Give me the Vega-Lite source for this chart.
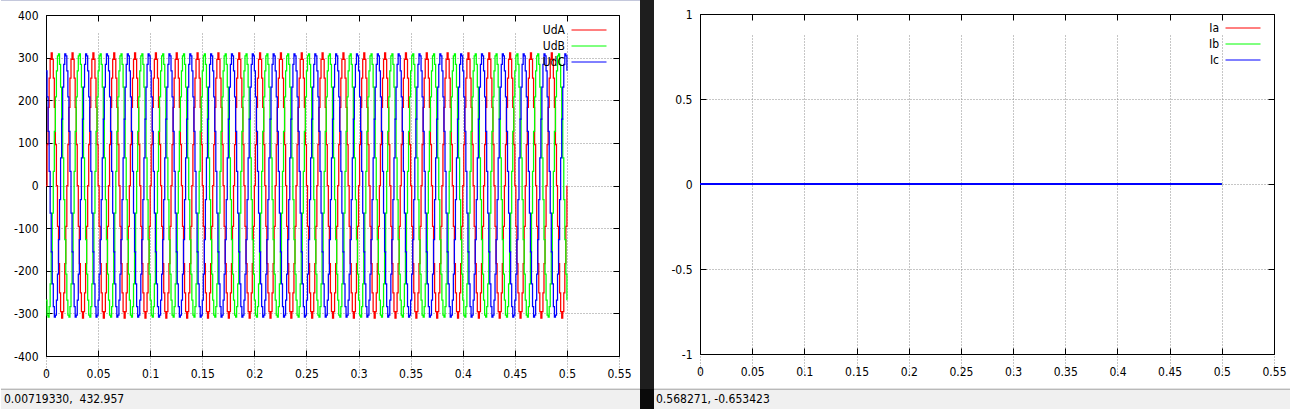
{
"$schema": "https://vega.github.io/schema/vega-lite/v6.json",
"background": "#ffffff",
"padding": 0,
"spacing": 0,
"bounds": "flush",
"columns": 3,
"align": "each",
"resolve": {"scale": {"color": "independent"}, "legend": {"color": "independent"}},
"config": {
  "view": {"stroke": null},
  "font": "DejaVu Sans Condensed, Liberation Sans, sans-serif",
  "axis": {
    "title": null, "labelFontSize": 12, "labelColor": "#000000", "labelFlush": false, "labelOverlap": false, "labelBound": false,
    "domainColor": "#000000", "domainWidth": 1, "tickColor": "#000000", "tickWidth": 1, "tickSize": -6,
    "gridColor": "#8c8c8c", "gridDash": [1, 2], "gridWidth": 1, "gridOpacity": 1,
    "labelExpr": "'' + datum.value"
  },
  "legend": {
    "title": null, "symbolType": "M-3.5,0H3.5", "symbolSize": 100, "symbolStrokeWidth": 1,
    "labelAlign": "right", "labelOffset": -30, "labelFontSize": 12, "labelColor": "#000000",
    "rowPadding": 4, "padding": 0, "orient": "none"
  }
},
"datasets": {
"u": [
{"t":0.000,"UdA":0,"UdB":-269,"UdC":269},{"t":0.001,"UdA":96,"UdB":-304,"UdC":208},{"t":0.002,"UdA":183,"UdB":-309,"UdC":127},{"t":0.003,"UdA":252,"UdB":-284,"UdC":33},{"t":0.004,"UdA":296,"UdB":-231,"UdC":-65},{"t":0.005,"UdA":311,"UdB":-156,"UdC":-156},{"t":0.006,"UdA":296,"UdB":-65,"UdC":-231},{"t":0.007,"UdA":252,"UdB":33,"UdC":-284},{"t":0.008,"UdA":183,"UdB":127,"UdC":-309},{"t":0.009,"UdA":96,"UdB":208,"UdC":-304},
{"t":0.010,"UdA":0,"UdB":269,"UdC":-269},{"t":0.011,"UdA":-96,"UdB":304,"UdC":-208},{"t":0.012,"UdA":-183,"UdB":309,"UdC":-127},{"t":0.013,"UdA":-252,"UdB":284,"UdC":-33},{"t":0.014,"UdA":-296,"UdB":231,"UdC":65},{"t":0.015,"UdA":-311,"UdB":156,"UdC":156},{"t":0.016,"UdA":-296,"UdB":65,"UdC":231},{"t":0.017,"UdA":-252,"UdB":-33,"UdC":284},{"t":0.018,"UdA":-183,"UdB":-127,"UdC":309},{"t":0.019,"UdA":-96,"UdB":-208,"UdC":304},
{"t":0.020,"UdA":0,"UdB":-269,"UdC":269},{"t":0.021,"UdA":96,"UdB":-304,"UdC":208},{"t":0.022,"UdA":183,"UdB":-309,"UdC":127},{"t":0.023,"UdA":252,"UdB":-284,"UdC":33},{"t":0.024,"UdA":296,"UdB":-231,"UdC":-65},{"t":0.025,"UdA":311,"UdB":-156,"UdC":-156},{"t":0.026,"UdA":296,"UdB":-65,"UdC":-231},{"t":0.027,"UdA":252,"UdB":33,"UdC":-284},{"t":0.028,"UdA":183,"UdB":127,"UdC":-309},{"t":0.029,"UdA":96,"UdB":208,"UdC":-304},
{"t":0.030,"UdA":0,"UdB":269,"UdC":-269},{"t":0.031,"UdA":-96,"UdB":304,"UdC":-208},{"t":0.032,"UdA":-183,"UdB":309,"UdC":-127},{"t":0.033,"UdA":-252,"UdB":284,"UdC":-33},{"t":0.034,"UdA":-296,"UdB":231,"UdC":65},{"t":0.035,"UdA":-311,"UdB":156,"UdC":156},{"t":0.036,"UdA":-296,"UdB":65,"UdC":231},{"t":0.037,"UdA":-252,"UdB":-33,"UdC":284},{"t":0.038,"UdA":-183,"UdB":-127,"UdC":309},{"t":0.039,"UdA":-96,"UdB":-208,"UdC":304},
{"t":0.040,"UdA":0,"UdB":-269,"UdC":269},{"t":0.041,"UdA":96,"UdB":-304,"UdC":208},{"t":0.042,"UdA":183,"UdB":-309,"UdC":127},{"t":0.043,"UdA":252,"UdB":-284,"UdC":33},{"t":0.044,"UdA":296,"UdB":-231,"UdC":-65},{"t":0.045,"UdA":311,"UdB":-156,"UdC":-156},{"t":0.046,"UdA":296,"UdB":-65,"UdC":-231},{"t":0.047,"UdA":252,"UdB":33,"UdC":-284},{"t":0.048,"UdA":183,"UdB":127,"UdC":-309},{"t":0.049,"UdA":96,"UdB":208,"UdC":-304},
{"t":0.050,"UdA":0,"UdB":269,"UdC":-269},{"t":0.051,"UdA":-96,"UdB":304,"UdC":-208},{"t":0.052,"UdA":-183,"UdB":309,"UdC":-127},{"t":0.053,"UdA":-252,"UdB":284,"UdC":-33},{"t":0.054,"UdA":-296,"UdB":231,"UdC":65},{"t":0.055,"UdA":-311,"UdB":156,"UdC":156},{"t":0.056,"UdA":-296,"UdB":65,"UdC":231},{"t":0.057,"UdA":-252,"UdB":-33,"UdC":284},{"t":0.058,"UdA":-183,"UdB":-127,"UdC":309},{"t":0.059,"UdA":-96,"UdB":-208,"UdC":304},
{"t":0.060,"UdA":0,"UdB":-269,"UdC":269},{"t":0.061,"UdA":96,"UdB":-304,"UdC":208},{"t":0.062,"UdA":183,"UdB":-309,"UdC":127},{"t":0.063,"UdA":252,"UdB":-284,"UdC":33},{"t":0.064,"UdA":296,"UdB":-231,"UdC":-65},{"t":0.065,"UdA":311,"UdB":-156,"UdC":-156},{"t":0.066,"UdA":296,"UdB":-65,"UdC":-231},{"t":0.067,"UdA":252,"UdB":33,"UdC":-284},{"t":0.068,"UdA":183,"UdB":127,"UdC":-309},{"t":0.069,"UdA":96,"UdB":208,"UdC":-304},
{"t":0.070,"UdA":0,"UdB":269,"UdC":-269},{"t":0.071,"UdA":-96,"UdB":304,"UdC":-208},{"t":0.072,"UdA":-183,"UdB":309,"UdC":-127},{"t":0.073,"UdA":-252,"UdB":284,"UdC":-33},{"t":0.074,"UdA":-296,"UdB":231,"UdC":65},{"t":0.075,"UdA":-311,"UdB":156,"UdC":156},{"t":0.076,"UdA":-296,"UdB":65,"UdC":231},{"t":0.077,"UdA":-252,"UdB":-33,"UdC":284},{"t":0.078,"UdA":-183,"UdB":-127,"UdC":309},{"t":0.079,"UdA":-96,"UdB":-208,"UdC":304},
{"t":0.080,"UdA":0,"UdB":-269,"UdC":269},{"t":0.081,"UdA":96,"UdB":-304,"UdC":208},{"t":0.082,"UdA":183,"UdB":-309,"UdC":127},{"t":0.083,"UdA":252,"UdB":-284,"UdC":33},{"t":0.084,"UdA":296,"UdB":-231,"UdC":-65},{"t":0.085,"UdA":311,"UdB":-156,"UdC":-156},{"t":0.086,"UdA":296,"UdB":-65,"UdC":-231},{"t":0.087,"UdA":252,"UdB":33,"UdC":-284},{"t":0.088,"UdA":183,"UdB":127,"UdC":-309},{"t":0.089,"UdA":96,"UdB":208,"UdC":-304},
{"t":0.090,"UdA":0,"UdB":269,"UdC":-269},{"t":0.091,"UdA":-96,"UdB":304,"UdC":-208},{"t":0.092,"UdA":-183,"UdB":309,"UdC":-127},{"t":0.093,"UdA":-252,"UdB":284,"UdC":-33},{"t":0.094,"UdA":-296,"UdB":231,"UdC":65},{"t":0.095,"UdA":-311,"UdB":156,"UdC":156},{"t":0.096,"UdA":-296,"UdB":65,"UdC":231},{"t":0.097,"UdA":-252,"UdB":-33,"UdC":284},{"t":0.098,"UdA":-183,"UdB":-127,"UdC":309},{"t":0.099,"UdA":-96,"UdB":-208,"UdC":304},
{"t":0.100,"UdA":0,"UdB":-269,"UdC":269},{"t":0.101,"UdA":96,"UdB":-304,"UdC":208},{"t":0.102,"UdA":183,"UdB":-309,"UdC":127},{"t":0.103,"UdA":252,"UdB":-284,"UdC":33},{"t":0.104,"UdA":296,"UdB":-231,"UdC":-65},{"t":0.105,"UdA":311,"UdB":-156,"UdC":-156},{"t":0.106,"UdA":296,"UdB":-65,"UdC":-231},{"t":0.107,"UdA":252,"UdB":33,"UdC":-284},{"t":0.108,"UdA":183,"UdB":127,"UdC":-309},{"t":0.109,"UdA":96,"UdB":208,"UdC":-304},
{"t":0.110,"UdA":0,"UdB":269,"UdC":-269},{"t":0.111,"UdA":-96,"UdB":304,"UdC":-208},{"t":0.112,"UdA":-183,"UdB":309,"UdC":-127},{"t":0.113,"UdA":-252,"UdB":284,"UdC":-33},{"t":0.114,"UdA":-296,"UdB":231,"UdC":65},{"t":0.115,"UdA":-311,"UdB":156,"UdC":156},{"t":0.116,"UdA":-296,"UdB":65,"UdC":231},{"t":0.117,"UdA":-252,"UdB":-33,"UdC":284},{"t":0.118,"UdA":-183,"UdB":-127,"UdC":309},{"t":0.119,"UdA":-96,"UdB":-208,"UdC":304},
{"t":0.120,"UdA":0,"UdB":-269,"UdC":269},{"t":0.121,"UdA":96,"UdB":-304,"UdC":208},{"t":0.122,"UdA":183,"UdB":-309,"UdC":127},{"t":0.123,"UdA":252,"UdB":-284,"UdC":33},{"t":0.124,"UdA":296,"UdB":-231,"UdC":-65},{"t":0.125,"UdA":311,"UdB":-156,"UdC":-156},{"t":0.126,"UdA":296,"UdB":-65,"UdC":-231},{"t":0.127,"UdA":252,"UdB":33,"UdC":-284},{"t":0.128,"UdA":183,"UdB":127,"UdC":-309},{"t":0.129,"UdA":96,"UdB":208,"UdC":-304},
{"t":0.130,"UdA":0,"UdB":269,"UdC":-269},{"t":0.131,"UdA":-96,"UdB":304,"UdC":-208},{"t":0.132,"UdA":-183,"UdB":309,"UdC":-127},{"t":0.133,"UdA":-252,"UdB":284,"UdC":-33},{"t":0.134,"UdA":-296,"UdB":231,"UdC":65},{"t":0.135,"UdA":-311,"UdB":156,"UdC":156},{"t":0.136,"UdA":-296,"UdB":65,"UdC":231},{"t":0.137,"UdA":-252,"UdB":-33,"UdC":284},{"t":0.138,"UdA":-183,"UdB":-127,"UdC":309},{"t":0.139,"UdA":-96,"UdB":-208,"UdC":304},
{"t":0.140,"UdA":0,"UdB":-269,"UdC":269},{"t":0.141,"UdA":96,"UdB":-304,"UdC":208},{"t":0.142,"UdA":183,"UdB":-309,"UdC":127},{"t":0.143,"UdA":252,"UdB":-284,"UdC":33},{"t":0.144,"UdA":296,"UdB":-231,"UdC":-65},{"t":0.145,"UdA":311,"UdB":-156,"UdC":-156},{"t":0.146,"UdA":296,"UdB":-65,"UdC":-231},{"t":0.147,"UdA":252,"UdB":33,"UdC":-284},{"t":0.148,"UdA":183,"UdB":127,"UdC":-309},{"t":0.149,"UdA":96,"UdB":208,"UdC":-304},
{"t":0.150,"UdA":0,"UdB":269,"UdC":-269},{"t":0.151,"UdA":-96,"UdB":304,"UdC":-208},{"t":0.152,"UdA":-183,"UdB":309,"UdC":-127},{"t":0.153,"UdA":-252,"UdB":284,"UdC":-33},{"t":0.154,"UdA":-296,"UdB":231,"UdC":65},{"t":0.155,"UdA":-311,"UdB":156,"UdC":156},{"t":0.156,"UdA":-296,"UdB":65,"UdC":231},{"t":0.157,"UdA":-252,"UdB":-33,"UdC":284},{"t":0.158,"UdA":-183,"UdB":-127,"UdC":309},{"t":0.159,"UdA":-96,"UdB":-208,"UdC":304},
{"t":0.160,"UdA":0,"UdB":-269,"UdC":269},{"t":0.161,"UdA":96,"UdB":-304,"UdC":208},{"t":0.162,"UdA":183,"UdB":-309,"UdC":127},{"t":0.163,"UdA":252,"UdB":-284,"UdC":33},{"t":0.164,"UdA":296,"UdB":-231,"UdC":-65},{"t":0.165,"UdA":311,"UdB":-156,"UdC":-156},{"t":0.166,"UdA":296,"UdB":-65,"UdC":-231},{"t":0.167,"UdA":252,"UdB":33,"UdC":-284},{"t":0.168,"UdA":183,"UdB":127,"UdC":-309},{"t":0.169,"UdA":96,"UdB":208,"UdC":-304},
{"t":0.170,"UdA":0,"UdB":269,"UdC":-269},{"t":0.171,"UdA":-96,"UdB":304,"UdC":-208},{"t":0.172,"UdA":-183,"UdB":309,"UdC":-127},{"t":0.173,"UdA":-252,"UdB":284,"UdC":-33},{"t":0.174,"UdA":-296,"UdB":231,"UdC":65},{"t":0.175,"UdA":-311,"UdB":156,"UdC":156},{"t":0.176,"UdA":-296,"UdB":65,"UdC":231},{"t":0.177,"UdA":-252,"UdB":-33,"UdC":284},{"t":0.178,"UdA":-183,"UdB":-127,"UdC":309},{"t":0.179,"UdA":-96,"UdB":-208,"UdC":304},
{"t":0.180,"UdA":0,"UdB":-269,"UdC":269},{"t":0.181,"UdA":96,"UdB":-304,"UdC":208},{"t":0.182,"UdA":183,"UdB":-309,"UdC":127},{"t":0.183,"UdA":252,"UdB":-284,"UdC":33},{"t":0.184,"UdA":296,"UdB":-231,"UdC":-65},{"t":0.185,"UdA":311,"UdB":-156,"UdC":-156},{"t":0.186,"UdA":296,"UdB":-65,"UdC":-231},{"t":0.187,"UdA":252,"UdB":33,"UdC":-284},{"t":0.188,"UdA":183,"UdB":127,"UdC":-309},{"t":0.189,"UdA":96,"UdB":208,"UdC":-304},
{"t":0.190,"UdA":0,"UdB":269,"UdC":-269},{"t":0.191,"UdA":-96,"UdB":304,"UdC":-208},{"t":0.192,"UdA":-183,"UdB":309,"UdC":-127},{"t":0.193,"UdA":-252,"UdB":284,"UdC":-33},{"t":0.194,"UdA":-296,"UdB":231,"UdC":65},{"t":0.195,"UdA":-311,"UdB":156,"UdC":156},{"t":0.196,"UdA":-296,"UdB":65,"UdC":231},{"t":0.197,"UdA":-252,"UdB":-33,"UdC":284},{"t":0.198,"UdA":-183,"UdB":-127,"UdC":309},{"t":0.199,"UdA":-96,"UdB":-208,"UdC":304},
{"t":0.200,"UdA":0,"UdB":-269,"UdC":269},{"t":0.201,"UdA":96,"UdB":-304,"UdC":208},{"t":0.202,"UdA":183,"UdB":-309,"UdC":127},{"t":0.203,"UdA":252,"UdB":-284,"UdC":33},{"t":0.204,"UdA":296,"UdB":-231,"UdC":-65},{"t":0.205,"UdA":311,"UdB":-156,"UdC":-156},{"t":0.206,"UdA":296,"UdB":-65,"UdC":-231},{"t":0.207,"UdA":252,"UdB":33,"UdC":-284},{"t":0.208,"UdA":183,"UdB":127,"UdC":-309},{"t":0.209,"UdA":96,"UdB":208,"UdC":-304},
{"t":0.210,"UdA":0,"UdB":269,"UdC":-269},{"t":0.211,"UdA":-96,"UdB":304,"UdC":-208},{"t":0.212,"UdA":-183,"UdB":309,"UdC":-127},{"t":0.213,"UdA":-252,"UdB":284,"UdC":-33},{"t":0.214,"UdA":-296,"UdB":231,"UdC":65},{"t":0.215,"UdA":-311,"UdB":156,"UdC":156},{"t":0.216,"UdA":-296,"UdB":65,"UdC":231},{"t":0.217,"UdA":-252,"UdB":-33,"UdC":284},{"t":0.218,"UdA":-183,"UdB":-127,"UdC":309},{"t":0.219,"UdA":-96,"UdB":-208,"UdC":304},
{"t":0.220,"UdA":0,"UdB":-269,"UdC":269},{"t":0.221,"UdA":96,"UdB":-304,"UdC":208},{"t":0.222,"UdA":183,"UdB":-309,"UdC":127},{"t":0.223,"UdA":252,"UdB":-284,"UdC":33},{"t":0.224,"UdA":296,"UdB":-231,"UdC":-65},{"t":0.225,"UdA":311,"UdB":-156,"UdC":-156},{"t":0.226,"UdA":296,"UdB":-65,"UdC":-231},{"t":0.227,"UdA":252,"UdB":33,"UdC":-284},{"t":0.228,"UdA":183,"UdB":127,"UdC":-309},{"t":0.229,"UdA":96,"UdB":208,"UdC":-304},
{"t":0.230,"UdA":0,"UdB":269,"UdC":-269},{"t":0.231,"UdA":-96,"UdB":304,"UdC":-208},{"t":0.232,"UdA":-183,"UdB":309,"UdC":-127},{"t":0.233,"UdA":-252,"UdB":284,"UdC":-33},{"t":0.234,"UdA":-296,"UdB":231,"UdC":65},{"t":0.235,"UdA":-311,"UdB":156,"UdC":156},{"t":0.236,"UdA":-296,"UdB":65,"UdC":231},{"t":0.237,"UdA":-252,"UdB":-33,"UdC":284},{"t":0.238,"UdA":-183,"UdB":-127,"UdC":309},{"t":0.239,"UdA":-96,"UdB":-208,"UdC":304},
{"t":0.240,"UdA":0,"UdB":-269,"UdC":269},{"t":0.241,"UdA":96,"UdB":-304,"UdC":208},{"t":0.242,"UdA":183,"UdB":-309,"UdC":127},{"t":0.243,"UdA":252,"UdB":-284,"UdC":33},{"t":0.244,"UdA":296,"UdB":-231,"UdC":-65},{"t":0.245,"UdA":311,"UdB":-156,"UdC":-156},{"t":0.246,"UdA":296,"UdB":-65,"UdC":-231},{"t":0.247,"UdA":252,"UdB":33,"UdC":-284},{"t":0.248,"UdA":183,"UdB":127,"UdC":-309},{"t":0.249,"UdA":96,"UdB":208,"UdC":-304},
{"t":0.250,"UdA":0,"UdB":269,"UdC":-269},{"t":0.251,"UdA":-96,"UdB":304,"UdC":-208},{"t":0.252,"UdA":-183,"UdB":309,"UdC":-127},{"t":0.253,"UdA":-252,"UdB":284,"UdC":-33},{"t":0.254,"UdA":-296,"UdB":231,"UdC":65},{"t":0.255,"UdA":-311,"UdB":156,"UdC":156},{"t":0.256,"UdA":-296,"UdB":65,"UdC":231},{"t":0.257,"UdA":-252,"UdB":-33,"UdC":284},{"t":0.258,"UdA":-183,"UdB":-127,"UdC":309},{"t":0.259,"UdA":-96,"UdB":-208,"UdC":304},
{"t":0.260,"UdA":0,"UdB":-269,"UdC":269},{"t":0.261,"UdA":96,"UdB":-304,"UdC":208},{"t":0.262,"UdA":183,"UdB":-309,"UdC":127},{"t":0.263,"UdA":252,"UdB":-284,"UdC":33},{"t":0.264,"UdA":296,"UdB":-231,"UdC":-65},{"t":0.265,"UdA":311,"UdB":-156,"UdC":-156},{"t":0.266,"UdA":296,"UdB":-65,"UdC":-231},{"t":0.267,"UdA":252,"UdB":33,"UdC":-284},{"t":0.268,"UdA":183,"UdB":127,"UdC":-309},{"t":0.269,"UdA":96,"UdB":208,"UdC":-304},
{"t":0.270,"UdA":0,"UdB":269,"UdC":-269},{"t":0.271,"UdA":-96,"UdB":304,"UdC":-208},{"t":0.272,"UdA":-183,"UdB":309,"UdC":-127},{"t":0.273,"UdA":-252,"UdB":284,"UdC":-33},{"t":0.274,"UdA":-296,"UdB":231,"UdC":65},{"t":0.275,"UdA":-311,"UdB":156,"UdC":156},{"t":0.276,"UdA":-296,"UdB":65,"UdC":231},{"t":0.277,"UdA":-252,"UdB":-33,"UdC":284},{"t":0.278,"UdA":-183,"UdB":-127,"UdC":309},{"t":0.279,"UdA":-96,"UdB":-208,"UdC":304},
{"t":0.280,"UdA":0,"UdB":-269,"UdC":269},{"t":0.281,"UdA":96,"UdB":-304,"UdC":208},{"t":0.282,"UdA":183,"UdB":-309,"UdC":127},{"t":0.283,"UdA":252,"UdB":-284,"UdC":33},{"t":0.284,"UdA":296,"UdB":-231,"UdC":-65},{"t":0.285,"UdA":311,"UdB":-156,"UdC":-156},{"t":0.286,"UdA":296,"UdB":-65,"UdC":-231},{"t":0.287,"UdA":252,"UdB":33,"UdC":-284},{"t":0.288,"UdA":183,"UdB":127,"UdC":-309},{"t":0.289,"UdA":96,"UdB":208,"UdC":-304},
{"t":0.290,"UdA":0,"UdB":269,"UdC":-269},{"t":0.291,"UdA":-96,"UdB":304,"UdC":-208},{"t":0.292,"UdA":-183,"UdB":309,"UdC":-127},{"t":0.293,"UdA":-252,"UdB":284,"UdC":-33},{"t":0.294,"UdA":-296,"UdB":231,"UdC":65},{"t":0.295,"UdA":-311,"UdB":156,"UdC":156},{"t":0.296,"UdA":-296,"UdB":65,"UdC":231},{"t":0.297,"UdA":-252,"UdB":-33,"UdC":284},{"t":0.298,"UdA":-183,"UdB":-127,"UdC":309},{"t":0.299,"UdA":-96,"UdB":-208,"UdC":304},
{"t":0.300,"UdA":0,"UdB":-269,"UdC":269},{"t":0.301,"UdA":96,"UdB":-304,"UdC":208},{"t":0.302,"UdA":183,"UdB":-309,"UdC":127},{"t":0.303,"UdA":252,"UdB":-284,"UdC":33},{"t":0.304,"UdA":296,"UdB":-231,"UdC":-65},{"t":0.305,"UdA":311,"UdB":-156,"UdC":-156},{"t":0.306,"UdA":296,"UdB":-65,"UdC":-231},{"t":0.307,"UdA":252,"UdB":33,"UdC":-284},{"t":0.308,"UdA":183,"UdB":127,"UdC":-309},{"t":0.309,"UdA":96,"UdB":208,"UdC":-304},
{"t":0.310,"UdA":0,"UdB":269,"UdC":-269},{"t":0.311,"UdA":-96,"UdB":304,"UdC":-208},{"t":0.312,"UdA":-183,"UdB":309,"UdC":-127},{"t":0.313,"UdA":-252,"UdB":284,"UdC":-33},{"t":0.314,"UdA":-296,"UdB":231,"UdC":65},{"t":0.315,"UdA":-311,"UdB":156,"UdC":156},{"t":0.316,"UdA":-296,"UdB":65,"UdC":231},{"t":0.317,"UdA":-252,"UdB":-33,"UdC":284},{"t":0.318,"UdA":-183,"UdB":-127,"UdC":309},{"t":0.319,"UdA":-96,"UdB":-208,"UdC":304},
{"t":0.320,"UdA":0,"UdB":-269,"UdC":269},{"t":0.321,"UdA":96,"UdB":-304,"UdC":208},{"t":0.322,"UdA":183,"UdB":-309,"UdC":127},{"t":0.323,"UdA":252,"UdB":-284,"UdC":33},{"t":0.324,"UdA":296,"UdB":-231,"UdC":-65},{"t":0.325,"UdA":311,"UdB":-156,"UdC":-156},{"t":0.326,"UdA":296,"UdB":-65,"UdC":-231},{"t":0.327,"UdA":252,"UdB":33,"UdC":-284},{"t":0.328,"UdA":183,"UdB":127,"UdC":-309},{"t":0.329,"UdA":96,"UdB":208,"UdC":-304},
{"t":0.330,"UdA":0,"UdB":269,"UdC":-269},{"t":0.331,"UdA":-96,"UdB":304,"UdC":-208},{"t":0.332,"UdA":-183,"UdB":309,"UdC":-127},{"t":0.333,"UdA":-252,"UdB":284,"UdC":-33},{"t":0.334,"UdA":-296,"UdB":231,"UdC":65},{"t":0.335,"UdA":-311,"UdB":156,"UdC":156},{"t":0.336,"UdA":-296,"UdB":65,"UdC":231},{"t":0.337,"UdA":-252,"UdB":-33,"UdC":284},{"t":0.338,"UdA":-183,"UdB":-127,"UdC":309},{"t":0.339,"UdA":-96,"UdB":-208,"UdC":304},
{"t":0.340,"UdA":0,"UdB":-269,"UdC":269},{"t":0.341,"UdA":96,"UdB":-304,"UdC":208},{"t":0.342,"UdA":183,"UdB":-309,"UdC":127},{"t":0.343,"UdA":252,"UdB":-284,"UdC":33},{"t":0.344,"UdA":296,"UdB":-231,"UdC":-65},{"t":0.345,"UdA":311,"UdB":-156,"UdC":-156},{"t":0.346,"UdA":296,"UdB":-65,"UdC":-231},{"t":0.347,"UdA":252,"UdB":33,"UdC":-284},{"t":0.348,"UdA":183,"UdB":127,"UdC":-309},{"t":0.349,"UdA":96,"UdB":208,"UdC":-304},
{"t":0.350,"UdA":0,"UdB":269,"UdC":-269},{"t":0.351,"UdA":-96,"UdB":304,"UdC":-208},{"t":0.352,"UdA":-183,"UdB":309,"UdC":-127},{"t":0.353,"UdA":-252,"UdB":284,"UdC":-33},{"t":0.354,"UdA":-296,"UdB":231,"UdC":65},{"t":0.355,"UdA":-311,"UdB":156,"UdC":156},{"t":0.356,"UdA":-296,"UdB":65,"UdC":231},{"t":0.357,"UdA":-252,"UdB":-33,"UdC":284},{"t":0.358,"UdA":-183,"UdB":-127,"UdC":309},{"t":0.359,"UdA":-96,"UdB":-208,"UdC":304},
{"t":0.360,"UdA":0,"UdB":-269,"UdC":269},{"t":0.361,"UdA":96,"UdB":-304,"UdC":208},{"t":0.362,"UdA":183,"UdB":-309,"UdC":127},{"t":0.363,"UdA":252,"UdB":-284,"UdC":33},{"t":0.364,"UdA":296,"UdB":-231,"UdC":-65},{"t":0.365,"UdA":311,"UdB":-156,"UdC":-156},{"t":0.366,"UdA":296,"UdB":-65,"UdC":-231},{"t":0.367,"UdA":252,"UdB":33,"UdC":-284},{"t":0.368,"UdA":183,"UdB":127,"UdC":-309},{"t":0.369,"UdA":96,"UdB":208,"UdC":-304},
{"t":0.370,"UdA":0,"UdB":269,"UdC":-269},{"t":0.371,"UdA":-96,"UdB":304,"UdC":-208},{"t":0.372,"UdA":-183,"UdB":309,"UdC":-127},{"t":0.373,"UdA":-252,"UdB":284,"UdC":-33},{"t":0.374,"UdA":-296,"UdB":231,"UdC":65},{"t":0.375,"UdA":-311,"UdB":156,"UdC":156},{"t":0.376,"UdA":-296,"UdB":65,"UdC":231},{"t":0.377,"UdA":-252,"UdB":-33,"UdC":284},{"t":0.378,"UdA":-183,"UdB":-127,"UdC":309},{"t":0.379,"UdA":-96,"UdB":-208,"UdC":304},
{"t":0.380,"UdA":0,"UdB":-269,"UdC":269},{"t":0.381,"UdA":96,"UdB":-304,"UdC":208},{"t":0.382,"UdA":183,"UdB":-309,"UdC":127},{"t":0.383,"UdA":252,"UdB":-284,"UdC":33},{"t":0.384,"UdA":296,"UdB":-231,"UdC":-65},{"t":0.385,"UdA":311,"UdB":-156,"UdC":-156},{"t":0.386,"UdA":296,"UdB":-65,"UdC":-231},{"t":0.387,"UdA":252,"UdB":33,"UdC":-284},{"t":0.388,"UdA":183,"UdB":127,"UdC":-309},{"t":0.389,"UdA":96,"UdB":208,"UdC":-304},
{"t":0.390,"UdA":0,"UdB":269,"UdC":-269},{"t":0.391,"UdA":-96,"UdB":304,"UdC":-208},{"t":0.392,"UdA":-183,"UdB":309,"UdC":-127},{"t":0.393,"UdA":-252,"UdB":284,"UdC":-33},{"t":0.394,"UdA":-296,"UdB":231,"UdC":65},{"t":0.395,"UdA":-311,"UdB":156,"UdC":156},{"t":0.396,"UdA":-296,"UdB":65,"UdC":231},{"t":0.397,"UdA":-252,"UdB":-33,"UdC":284},{"t":0.398,"UdA":-183,"UdB":-127,"UdC":309},{"t":0.399,"UdA":-96,"UdB":-208,"UdC":304},
{"t":0.400,"UdA":0,"UdB":-269,"UdC":269},{"t":0.401,"UdA":96,"UdB":-304,"UdC":208},{"t":0.402,"UdA":183,"UdB":-309,"UdC":127},{"t":0.403,"UdA":252,"UdB":-284,"UdC":33},{"t":0.404,"UdA":296,"UdB":-231,"UdC":-65},{"t":0.405,"UdA":311,"UdB":-156,"UdC":-156},{"t":0.406,"UdA":296,"UdB":-65,"UdC":-231},{"t":0.407,"UdA":252,"UdB":33,"UdC":-284},{"t":0.408,"UdA":183,"UdB":127,"UdC":-309},{"t":0.409,"UdA":96,"UdB":208,"UdC":-304},
{"t":0.410,"UdA":0,"UdB":269,"UdC":-269},{"t":0.411,"UdA":-96,"UdB":304,"UdC":-208},{"t":0.412,"UdA":-183,"UdB":309,"UdC":-127},{"t":0.413,"UdA":-252,"UdB":284,"UdC":-33},{"t":0.414,"UdA":-296,"UdB":231,"UdC":65},{"t":0.415,"UdA":-311,"UdB":156,"UdC":156},{"t":0.416,"UdA":-296,"UdB":65,"UdC":231},{"t":0.417,"UdA":-252,"UdB":-33,"UdC":284},{"t":0.418,"UdA":-183,"UdB":-127,"UdC":309},{"t":0.419,"UdA":-96,"UdB":-208,"UdC":304},
{"t":0.420,"UdA":0,"UdB":-269,"UdC":269},{"t":0.421,"UdA":96,"UdB":-304,"UdC":208},{"t":0.422,"UdA":183,"UdB":-309,"UdC":127},{"t":0.423,"UdA":252,"UdB":-284,"UdC":33},{"t":0.424,"UdA":296,"UdB":-231,"UdC":-65},{"t":0.425,"UdA":311,"UdB":-156,"UdC":-156},{"t":0.426,"UdA":296,"UdB":-65,"UdC":-231},{"t":0.427,"UdA":252,"UdB":33,"UdC":-284},{"t":0.428,"UdA":183,"UdB":127,"UdC":-309},{"t":0.429,"UdA":96,"UdB":208,"UdC":-304},
{"t":0.430,"UdA":0,"UdB":269,"UdC":-269},{"t":0.431,"UdA":-96,"UdB":304,"UdC":-208},{"t":0.432,"UdA":-183,"UdB":309,"UdC":-127},{"t":0.433,"UdA":-252,"UdB":284,"UdC":-33},{"t":0.434,"UdA":-296,"UdB":231,"UdC":65},{"t":0.435,"UdA":-311,"UdB":156,"UdC":156},{"t":0.436,"UdA":-296,"UdB":65,"UdC":231},{"t":0.437,"UdA":-252,"UdB":-33,"UdC":284},{"t":0.438,"UdA":-183,"UdB":-127,"UdC":309},{"t":0.439,"UdA":-96,"UdB":-208,"UdC":304},
{"t":0.440,"UdA":0,"UdB":-269,"UdC":269},{"t":0.441,"UdA":96,"UdB":-304,"UdC":208},{"t":0.442,"UdA":183,"UdB":-309,"UdC":127},{"t":0.443,"UdA":252,"UdB":-284,"UdC":33},{"t":0.444,"UdA":296,"UdB":-231,"UdC":-65},{"t":0.445,"UdA":311,"UdB":-156,"UdC":-156},{"t":0.446,"UdA":296,"UdB":-65,"UdC":-231},{"t":0.447,"UdA":252,"UdB":33,"UdC":-284},{"t":0.448,"UdA":183,"UdB":127,"UdC":-309},{"t":0.449,"UdA":96,"UdB":208,"UdC":-304},
{"t":0.450,"UdA":0,"UdB":269,"UdC":-269},{"t":0.451,"UdA":-96,"UdB":304,"UdC":-208},{"t":0.452,"UdA":-183,"UdB":309,"UdC":-127},{"t":0.453,"UdA":-252,"UdB":284,"UdC":-33},{"t":0.454,"UdA":-296,"UdB":231,"UdC":65},{"t":0.455,"UdA":-311,"UdB":156,"UdC":156},{"t":0.456,"UdA":-296,"UdB":65,"UdC":231},{"t":0.457,"UdA":-252,"UdB":-33,"UdC":284},{"t":0.458,"UdA":-183,"UdB":-127,"UdC":309},{"t":0.459,"UdA":-96,"UdB":-208,"UdC":304},
{"t":0.460,"UdA":0,"UdB":-269,"UdC":269},{"t":0.461,"UdA":96,"UdB":-304,"UdC":208},{"t":0.462,"UdA":183,"UdB":-309,"UdC":127},{"t":0.463,"UdA":252,"UdB":-284,"UdC":33},{"t":0.464,"UdA":296,"UdB":-231,"UdC":-65},{"t":0.465,"UdA":311,"UdB":-156,"UdC":-156},{"t":0.466,"UdA":296,"UdB":-65,"UdC":-231},{"t":0.467,"UdA":252,"UdB":33,"UdC":-284},{"t":0.468,"UdA":183,"UdB":127,"UdC":-309},{"t":0.469,"UdA":96,"UdB":208,"UdC":-304},
{"t":0.470,"UdA":0,"UdB":269,"UdC":-269},{"t":0.471,"UdA":-96,"UdB":304,"UdC":-208},{"t":0.472,"UdA":-183,"UdB":309,"UdC":-127},{"t":0.473,"UdA":-252,"UdB":284,"UdC":-33},{"t":0.474,"UdA":-296,"UdB":231,"UdC":65},{"t":0.475,"UdA":-311,"UdB":156,"UdC":156},{"t":0.476,"UdA":-296,"UdB":65,"UdC":231},{"t":0.477,"UdA":-252,"UdB":-33,"UdC":284},{"t":0.478,"UdA":-183,"UdB":-127,"UdC":309},{"t":0.479,"UdA":-96,"UdB":-208,"UdC":304},
{"t":0.480,"UdA":0,"UdB":-269,"UdC":269},{"t":0.481,"UdA":96,"UdB":-304,"UdC":208},{"t":0.482,"UdA":183,"UdB":-309,"UdC":127},{"t":0.483,"UdA":252,"UdB":-284,"UdC":33},{"t":0.484,"UdA":296,"UdB":-231,"UdC":-65},{"t":0.485,"UdA":311,"UdB":-156,"UdC":-156},{"t":0.486,"UdA":296,"UdB":-65,"UdC":-231},{"t":0.487,"UdA":252,"UdB":33,"UdC":-284},{"t":0.488,"UdA":183,"UdB":127,"UdC":-309},{"t":0.489,"UdA":96,"UdB":208,"UdC":-304},
{"t":0.490,"UdA":0,"UdB":269,"UdC":-269},{"t":0.491,"UdA":-96,"UdB":304,"UdC":-208},{"t":0.492,"UdA":-183,"UdB":309,"UdC":-127},{"t":0.493,"UdA":-252,"UdB":284,"UdC":-33},{"t":0.494,"UdA":-296,"UdB":231,"UdC":65},{"t":0.495,"UdA":-311,"UdB":156,"UdC":156},{"t":0.496,"UdA":-296,"UdB":65,"UdC":231},{"t":0.497,"UdA":-252,"UdB":-33,"UdC":284},{"t":0.498,"UdA":-183,"UdB":-127,"UdC":309},{"t":0.499,"UdA":-96,"UdB":-208,"UdC":304},
{"t":0.500,"UdA":0,"UdB":-269,"UdC":269}
],
"i": [
{"t":0.0,"Ia":0,"Ib":0,"Ic":0},{"t":0.1,"Ia":0,"Ib":0,"Ic":0},{"t":0.2,"Ia":0,"Ib":0,"Ic":0},{"t":0.3,"Ia":0,"Ib":0,"Ic":0},{"t":0.4,"Ia":0,"Ib":0,"Ic":0},{"t":0.5,"Ia":0,"Ib":0,"Ic":0}
]
},
"concat": [
  {
    "width": 639, "height": 389,
    "data": {"name": "u"},
    "transform": [{"fold": ["UdA", "UdB", "UdC"], "as": ["series", "value"]}],
    "layer": [
      {
        "mark": {"type": "line", "interpolate": "step-after", "strokeWidth": 1.25, "clip": false},
        "encoding": {
          "x": {"field": "t", "type": "quantitative",
                "scale": {"domain": [0, 0.55], "range": [45, 618], "nice": false, "zero": false},
                "axis": {"orient": "bottom", "offset": -33, "values": [0, 0.05, 0.1, 0.15, 0.2, 0.25, 0.3, 0.35, 0.4, 0.45, 0.5, 0.55], "grid": true, "labelPadding": 18}},
          "y": {"field": "value", "type": "quantitative",
                "scale": {"domain": [-400, 400], "range": [356, 15], "nice": false, "zero": false},
                "axis": {"orient": "left", "offset": -45, "values": [-400, -300, -200, -100, 0, 100, 200, 300, 400], "grid": true, "labelPadding": 14}},
          "color": {"field": "series", "type": "nominal",
                "scale": {"domain": ["UdA", "UdB", "UdC"], "range": ["#ff0000", "#00ff00", "#0000ff"]},
                "legend": {"orient": "none", "legendX": 582, "legendY": 24}}
        }
      },
      {
        "mark": {"type": "line", "opacity": 0},
        "encoding": {
          "x": {"field": "t", "type": "quantitative",
                "axis": {"orient": "top", "offset": -15, "values": [0, 0.05, 0.1, 0.15, 0.2, 0.25, 0.3, 0.35, 0.4, 0.45, 0.5, 0.55], "grid": false, "labels": false}},
          "y": {"field": "value", "type": "quantitative",
                "axis": {"orient": "right", "offset": -21, "values": [-400, -300, -200, -100, 0, 100, 200, 300, 400], "grid": false, "labels": false}}
        }
      },
      {
        "mark": {"type": "rule", "color": "#c4c8dc", "strokeWidth": 1},
        "encoding": {"y": {"datum": 434, "type": "quantitative", "axis": null}}
      }
    ]
  },
  {
    "width": 14, "height": 389,
    "data": {"values": [{}]},
    "mark": {"type": "rect", "color": "#1e1e1e"},
    "encoding": {}
  },
  {
    "width": 637, "height": 389,
    "data": {"name": "i"},
    "transform": [{"fold": ["Ia", "Ib", "Ic"], "as": ["series", "value"]}],
    "layer": [
      {
        "mark": {"type": "line", "strokeWidth": 2, "clip": false},
        "encoding": {
          "x": {"field": "t", "type": "quantitative",
                "scale": {"domain": [0, 0.55], "range": [46, 620], "nice": false, "zero": false},
                "axis": {"orient": "bottom", "offset": -35, "values": [0, 0.05, 0.1, 0.15, 0.2, 0.25, 0.3, 0.35, 0.4, 0.45, 0.5, 0.55], "grid": true, "labelPadding": 18}},
          "y": {"field": "value", "type": "quantitative",
                "scale": {"domain": [-1, 1], "range": [354, 14], "nice": false, "zero": false},
                "axis": {"orient": "left", "offset": -46, "values": [-1, -0.5, 0, 0.5, 1], "grid": true, "labelPadding": 14}},
          "color": {"field": "series", "type": "nominal",
                "scale": {"domain": ["Ia", "Ib", "Ic"], "range": ["#ff0000", "#00ff00", "#0000ff"]},
                "legend": {"orient": "none", "legendX": 583, "legendY": 22, "symbolStrokeWidth": 1}}
        }
      },
      {
        "mark": {"type": "line", "opacity": 0},
        "encoding": {
          "x": {"field": "t", "type": "quantitative",
                "axis": {"orient": "top", "offset": -14, "values": [0, 0.05, 0.1, 0.15, 0.2, 0.25, 0.3, 0.35, 0.4, 0.45, 0.5, 0.55], "grid": false, "labels": false}},
          "y": {"field": "value", "type": "quantitative",
                "axis": {"orient": "right", "offset": -17, "values": [-1, -0.5, 0, 0.5, 1], "grid": false, "labels": false}}
        }
      }
    ]
  },
  {
    "width": 639, "height": 20,
    "data": {"values": [{"s": "0.00719330,\u00a0 432.957"}]},
    "layer": [
      {"mark": {"type": "rect", "color": "#f0f0f0"}, "encoding": {}},
      {"mark": {"type": "rule", "color": "#a0a0a0", "strokeWidth": 1},
       "encoding": {"y": {"datum": 0.99, "type": "quantitative", "scale": {"domain": [0, 1]}, "axis": null}}},
      {"mark": {"type": "text", "align": "left", "baseline": "middle", "fontSize": 12, "color": "#000000", "dx": 3},
       "encoding": {"text": {"field": "s"},
                    "x": {"datum": 0, "type": "quantitative", "scale": {"domain": [0, 1]}, "axis": null},
                    "y": {"datum": 0.5, "type": "quantitative", "scale": {"domain": [0, 1]}, "axis": null}}}
    ]
  },
  {
    "width": 14, "height": 20,
    "data": {"values": [{}]},
    "mark": {"type": "rect", "color": "#0a0a0a"},
    "encoding": {}
  },
  {
    "width": 637, "height": 20,
    "data": {"values": [{"s": "0.568271, -0.653423"}]},
    "layer": [
      {"mark": {"type": "rect", "color": "#f0f0f0"}, "encoding": {}},
      {"mark": {"type": "rule", "color": "#a0a0a0", "strokeWidth": 1},
       "encoding": {"y": {"datum": 0.99, "type": "quantitative", "scale": {"domain": [0, 1]}, "axis": null}}},
      {"mark": {"type": "text", "align": "left", "baseline": "middle", "fontSize": 12, "color": "#000000", "dx": 2},
       "encoding": {"text": {"field": "s"},
                    "x": {"datum": 0, "type": "quantitative", "scale": {"domain": [0, 1]}, "axis": null},
                    "y": {"datum": 0.5, "type": "quantitative", "scale": {"domain": [0, 1]}, "axis": null}}}
    ]
  }
]
}
